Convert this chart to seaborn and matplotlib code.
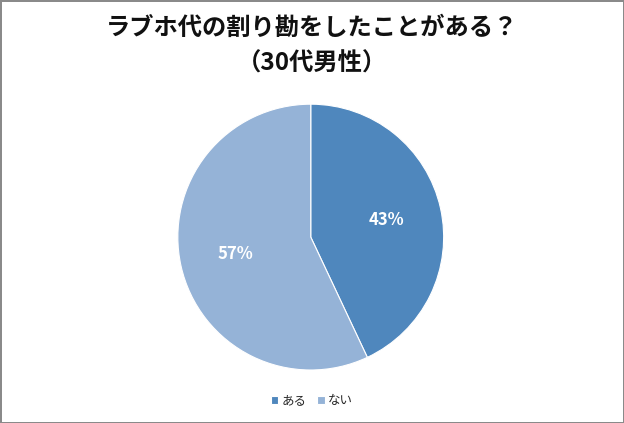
import matplotlib
matplotlib.use("Agg")
import matplotlib.pyplot as plt
import seaborn as sns

labels = ["ある", "ない"]
values = [43, 57]
colors = ["#4F87BD", "#95B3D7"]

sns.set_theme(style="white")
plt.rcParams['font.family'] = ['Noto Sans CJK JP', 'DejaVu Sans']

fig = plt.figure(figsize=(6.24, 4.23), dpi=100)
fig.patch.set_edgecolor("#8a8a8a")
fig.patch.set_linewidth(2)

ax = fig.add_axes([0.285, 0.125, 0.426, 0.629])
wedges, texts, autotexts = ax.pie(values, colors=sns.color_palette(colors), startangle=90,
                                  counterclock=False, autopct="%d%%", pctdistance=0.58,
                                  wedgeprops=dict(edgecolor="white", linewidth=0.8))
for t in autotexts:
    t.set_color("white")
    t.set_fontsize(12)
    t.set_fontweight("bold")
ax.set_xlim(-1.0, 1.0)
ax.set_ylim(-1.0, 1.0)
ax.set_aspect("equal")

fig.text(0.5, 0.935, "ラブホ代の割り勘をしたことがある？", ha="center", va="center",
         fontsize=17.5, fontweight="bold", color="#111111")
fig.text(0.5, 0.85, "（30代男性）", ha="center", va="center",
         fontsize=17.5, fontweight="bold", color="#111111")

fig.legend(wedges, labels, loc="center", bbox_to_anchor=(0.5, 0.053), ncol=2, frameon=False,
           fontsize=9, handlelength=0.6, handleheight=0.6, handletextpad=0.3, columnspacing=0.8)

fig.savefig("out.png", dpi=100, edgecolor=fig.get_edgecolor())
